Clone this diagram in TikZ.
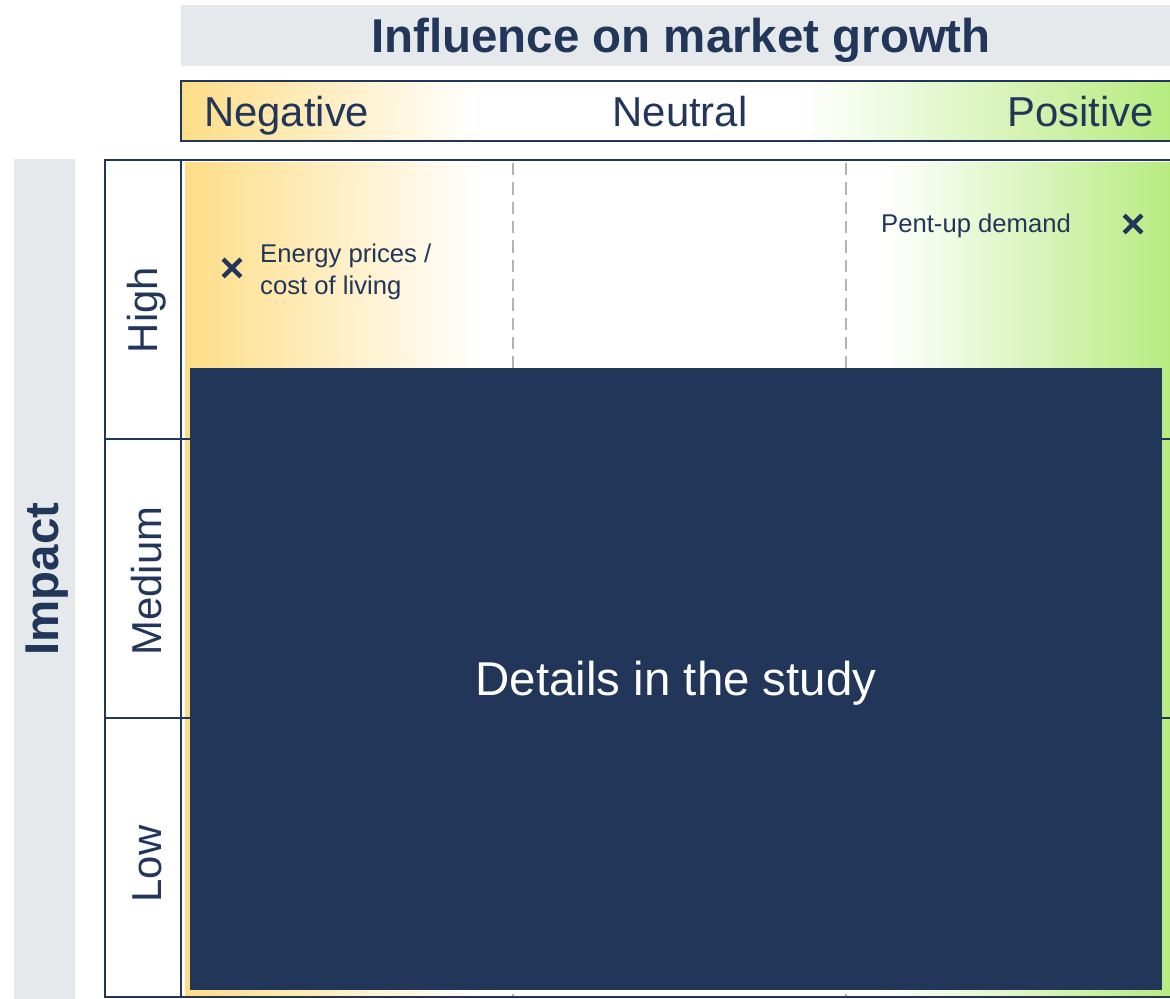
\documentclass[tikz,border=0pt]{standalone}
\usepackage{fontspec}
\setmainfont{Liberation Sans}
\usetikzlibrary{shapes.misc}

\definecolor{navy}{HTML}{22365A}
\definecolor{bandgray}{HTML}{E6E9EC}
\definecolor{negyellow}{HTML}{FDDD86}
\definecolor{posgreen}{HTML}{B7EB80}
\definecolor{gridgray}{HTML}{B4B4B4}

\tikzset{
  frame/.style={draw=navy, line width=1.15pt},
  bigtext/.style={text=navy, font=\fontsize{27}{30}\selectfont},
  headtext/.style={text=navy, font=\fontsize{23.8}{26}\selectfont},
  smalltext/.style={text=navy, font=\fontsize{14.6}{18}\selectfont, align=left},
  marker/.style={cross out, draw=navy, line width=2.6pt, minimum size=7.5pt, inner sep=0pt},
}

\begin{document}
\begin{tikzpicture}[x=0.2mm, y=-0.2mm]
			\useasboundingbox (0,0) rectangle (1170,999);
			
			% Bands
			\fill[bandgray] (181,5) rectangle (1170,66);
			\fill[bandgray] (14,159) rectangle (75,999);
			\node[bigtext, font=\fontsize{27}{30}\selectfont\bfseries] (title) at (681,40) {Influence on market growth};
			\node[bigtext, font=\fontsize{27}{30}\selectfont\bfseries, rotate=90] (impact) at (47,579) {Impact};
			
			% Header
			\shade[left color=negyellow, right color=white] (181,81) rectangle (476,141);
			\shade[left color=white, right color=posgreen] (800,81) rectangle (1170,141);
			\draw[frame] (181,81) rectangle (1175,141);
			\node[headtext, anchor=base west] (neg) at (198,127) {Negative};
			\node[headtext, anchor=base] (neu) at (680,127) {Neutral};
			\node[headtext, anchor=base east] (pos) at (1160,127) {Positive};
			
			% Matrix
			\shade[left color=negyellow, right color=white] (185,163) rectangle (482,997);
			\shade[left color=white, right color=posgreen] (884,163) rectangle (1170,997);
			\draw[gridgray, dash pattern=on 7pt off 4pt, line width=1pt] (513,163) -- (513,997);
			\draw[gridgray, dash pattern=on 7pt off 4pt, line width=1pt] (846,163) -- (846,997);
			\draw[frame] (105,160) rectangle (1175,997);
			\draw[frame] (181,160) -- (181,997);
			\draw[frame] (105,439) -- (1175,439);
			\draw[frame] (105,718) -- (1175,718);
			\node[headtext, rotate=90] (high) at (147,310) {High};
			\node[headtext, rotate=90] (medium) at (147,581) {Medium};
			\node[headtext, rotate=90] (low) at (147,864) {Low};
			
			% Drivers
			\node[marker] (energy) at (232,268) {};
			\node[smalltext, anchor=west] (energytext) at (254,272) {Energy prices /\\cost of living};
			\node[marker] (pentup) at (1133,224) {};
			\node[smalltext, anchor=base west] (pentuptext) at (875,233) {Pent-up demand};
			
			% Cover
			\fill[navy] (190,368) rectangle (1162,990);
			\node[bigtext, text=white] (details) at (676,683) {Details in the study};
			\end{tikzpicture}
\end{document}
